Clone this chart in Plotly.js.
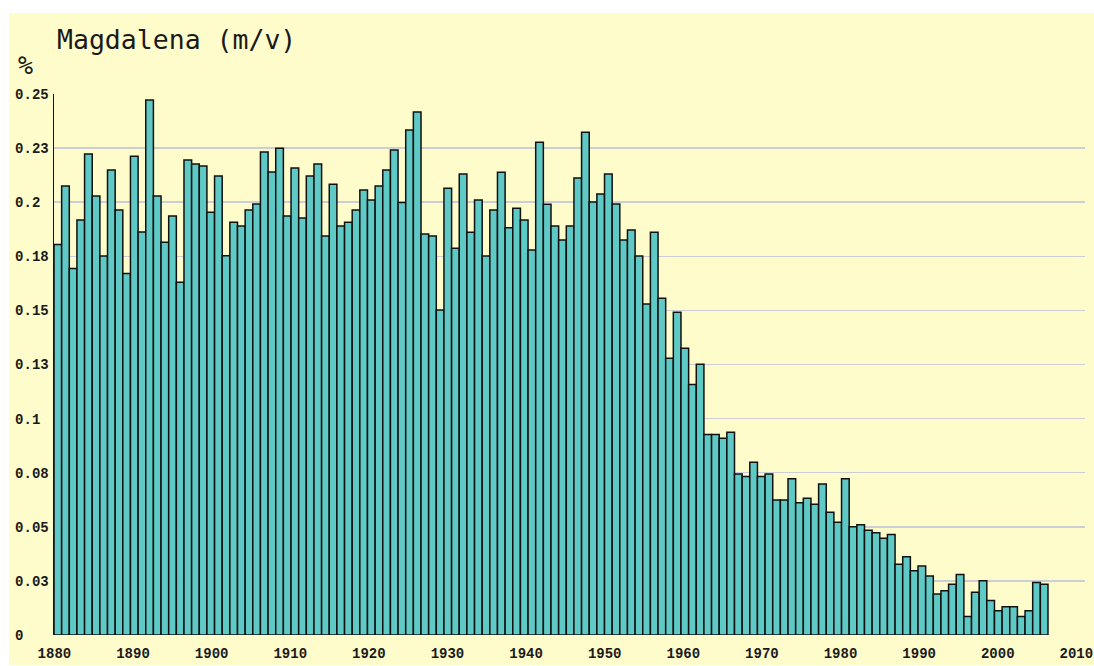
<!DOCTYPE html>
<html>
<head>
<meta charset="utf-8">
<script src="https://cdn.plot.ly/plotly-3.0.1.min.js"></script>
<style>html,body{margin:0;padding:0;background:#fff;}#chart{width:1094px;height:666px;}</style>
</head>
<body>
<div id="chart"></div>
<script>
// Years of the bars (1880 .. 2009)
var firstYear = 1880;
var shares = [
  0.1805, 0.2075, 0.1694, 0.1918, 0.2223, 0.2029, 0.1751, 0.2149, 0.1964, 0.1670,
  0.2212, 0.1862, 0.2472, 0.2029, 0.1815, 0.1936, 0.1630, 0.2195, 0.2177, 0.2167,
  0.1953, 0.2121, 0.1753, 0.1907, 0.1890, 0.1964, 0.1992, 0.2232, 0.2140, 0.2249,
  0.1936, 0.2158, 0.1927, 0.2121, 0.2177, 0.1844, 0.2083, 0.1890, 0.1907, 0.1964,
  0.2056, 0.2010, 0.2075, 0.2149, 0.2241, 0.1999, 0.2334, 0.2417, 0.1853, 0.1844,
  0.1502, 0.2064, 0.1787, 0.2130, 0.1861, 0.2010, 0.1751, 0.1964, 0.2138, 0.1882,
  0.1972, 0.1918, 0.1779, 0.2277, 0.1990, 0.1890, 0.1825, 0.1890, 0.2112, 0.2323,
  0.2001, 0.2038, 0.2130, 0.1992, 0.1825, 0.1872, 0.1751, 0.1530, 0.1861, 0.1556,
  0.1279, 0.1491, 0.1325, 0.1158, 0.1251, 0.0927, 0.0927, 0.0909, 0.0937, 0.0744,
  0.0733, 0.0798, 0.0733, 0.0744, 0.0624, 0.0624, 0.0722, 0.0611, 0.0632, 0.0604,
  0.0698, 0.0567, 0.0521, 0.0722, 0.0500, 0.0510, 0.0484, 0.0473, 0.0447, 0.0464,
  0.0327, 0.0362, 0.0297, 0.0319, 0.0273, 0.0189, 0.0205, 0.0234, 0.0280, 0.0085,
  0.0197, 0.0251, 0.0159, 0.0112, 0.0131, 0.0131, 0.0085, 0.0112, 0.0243, 0.0234
];
var years = shares.map(function (v, i) { return firstYear + i; });

var yTickVals = [0, 0.025, 0.05, 0.075, 0.1, 0.125, 0.15, 0.175, 0.2, 0.225, 0.25];
var yTickText = ['0', '0.03', '0.05', '0.08', '0.1', '0.13', '0.15', '0.18', '0.2', '0.23', '0.25'];
var xTickVals = [1880, 1890, 1900, 1910, 1920, 1930, 1940, 1950, 1960, 1970, 1980, 1990, 2000, 2010];
var xTickText = xTickVals.map(String);

var chartTitle = 'Magdalena (m/v)';
var unitLabel = '%';

function padRight(s, n) { while (s.length < n) { s += '\u00a0'; } return s; }

var tickFont = {family: '"Liberation Mono", "DejaVu Sans Mono", monospace', size: 14, weight: 700, color: '#1a1a1a'};

var traces = [
  {
    type: 'bar', x: years, y: shares, width: 1,
    marker: {color: '#5fc9c6', line: {color: '#111111', width: 1.5}},
    xaxis: 'x', yaxis: 'y', hoverinfo: 'x+y', showlegend: false
  },
  {
    type: 'scatter', mode: 'markers', x: [], y: [], xaxis: 'x2', yaxis: 'y',
    hoverinfo: 'skip', showlegend: false
  }
];

var layout = {
  width: 1094, height: 666,
  margin: {l: 54, r: 9, t: 94, b: 31, pad: 0},
  paper_bgcolor: '#ffffff',
  plot_bgcolor: 'rgba(0,0,0,0)',
  showlegend: false,
  bargap: 0,
  title: {
    text: chartTitle, xref: 'container', yref: 'container',
    x: 57 / 1094, xanchor: 'left', y: 1 - 40 / 666, yanchor: 'middle',
    font: {family: '"DejaVu Sans Mono", monospace', size: 26.5, color: '#1a1a1a'}
  },
  xaxis: {
    range: [1879.5, 2014.34], visible: false, fixedrange: true
  },
  xaxis2: {
    overlaying: 'x', anchor: 'y', side: 'bottom',
    range: [1879.95, 2011.1],
    tickmode: 'array', tickvals: xTickVals, ticktext: xTickText,
    showgrid: false, zeroline: false, showline: false, ticks: '',
    tickfont: tickFont, ticklabelstandoff: 8, fixedrange: true
  },
  yaxis: {
    range: [0, 0.25],
    tickmode: 'array', tickvals: yTickVals, ticktext: yTickText.map(function (t) { return padRight(t, 4); }),
    showgrid: true, gridcolor: '#cdcdd8', gridwidth: 1.5,
    zeroline: false, showline: true, linecolor: '#111111', linewidth: 1.5,
    ticks: '', tickfont: tickFont, ticklabelstandoff: 1, fixedrange: true
  },
  shapes: [{
    type: 'rect', xref: 'paper', yref: 'paper', layer: 'below',
    x0: -45 / 1031, x1: 1040 / 1031, y0: -30 / 541, y1: 622 / 541,
    fillcolor: '#fffccc', line: {width: 0}
  }],
  annotations: [{
    text: unitLabel, xref: 'paper', yref: 'paper',
    x: -28.5 / 1031, y: 570 / 541, xanchor: 'center', yanchor: 'middle',
    showarrow: false,
    font: {family: '"DejaVu Sans Mono", monospace', size: 25, color: '#1a1a1a'}
  }]
};

Plotly.newPlot('chart', traces, layout, {displayModeBar: false, staticPlot: true});
</script>
</body>
</html>
